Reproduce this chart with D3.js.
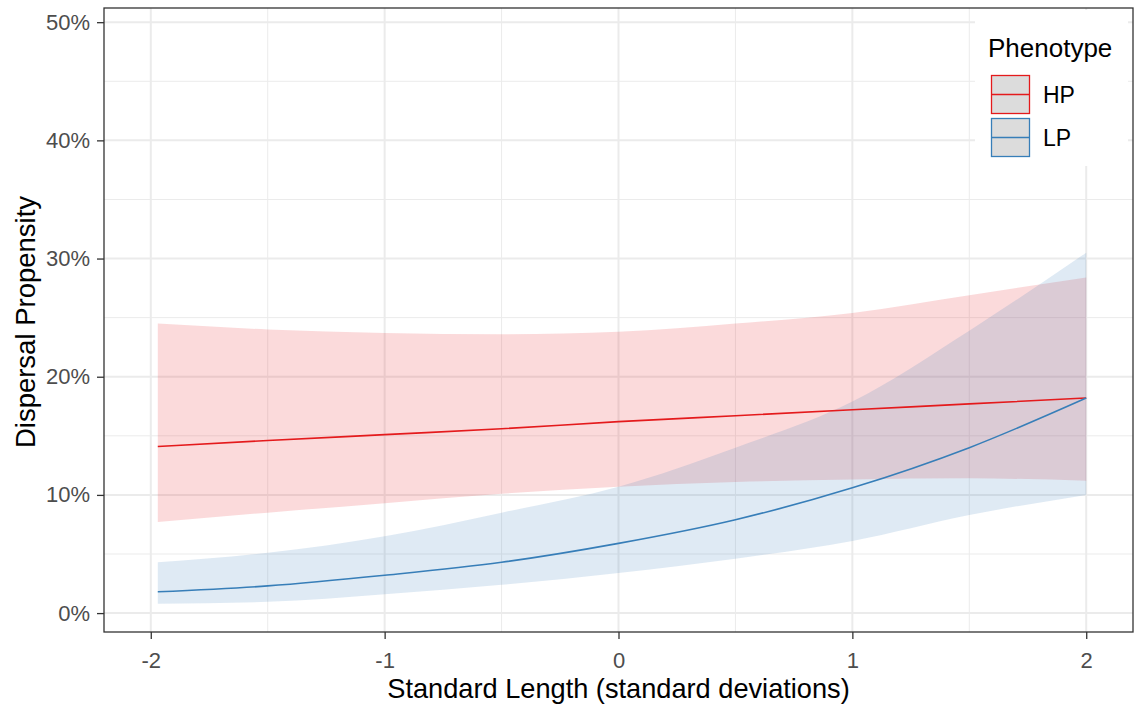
<!DOCTYPE html>
<html>
<head>
<meta charset="utf-8">
<script src="https://cdn.jsdelivr.net/npm/d3@7"></script>
<style>
  body { margin: 0; background: #fff; }
  text { font-family: "Liberation Sans", Arial, sans-serif; }
</style>
</head>
<body>
<svg></svg>
<script>
const width = 1138;
const height = 708;

// standard length (sd) at which the fitted values were read
const xs = [-1.97, -1.5, -1, -0.5, 0, 0.5, 1, 1.5, 2];

// HP phenotype: fit, lower, upper (proportion)
const hpFit = [0.141, 0.146, 0.151, 0.156, 0.162, 0.167, 0.172, 0.177, 0.182];
const hpLow = [0.077, 0.085, 0.093, 0.101, 0.107, 0.111, 0.113, 0.114, 0.112];
const hpUp = [0.245, 0.240, 0.237, 0.236, 0.238, 0.245, 0.254, 0.269, 0.284];

// LP phenotype
const lpFit = [0.018, 0.023, 0.032, 0.043, 0.059, 0.079, 0.106, 0.140, 0.182];
const lpLow = [0.008, 0.0095, 0.016, 0.024, 0.034, 0.046, 0.061, 0.083, 0.100];
const lpUp = [0.043, 0.051, 0.065, 0.085, 0.107, 0.140, 0.179, 0.239, 0.305];

const phenotypes = ["HP", "LP"];
const colors = ["#e41a1c", "#377eb8"];
const xTicks = [-2, -1, 0, 1, 2];
const xMinor = [-1.5, -0.5, 0.5, 1.5];
const yTicks = [0, 0.1, 0.2, 0.3, 0.4, 0.5];
const yMinor = [0.05, 0.15, 0.25, 0.35, 0.45];

const panel = { left: 104, right: 1133, top: 8, bottom: 632 };

const svg = d3.select("svg").attr("width", width).attr("height", height);

const x = d3.scaleLinear().domain([-2.2, 2.2]).range([panel.left, panel.right]);
const y = d3.scaleLinear().domain([-0.016, 0.512]).range([panel.bottom, panel.top]);

const grid = svg.append("g");
grid.selectAll(".minor-x").data(xMinor).join("line")
  .attr("x1", d => x(d)).attr("x2", d => x(d))
  .attr("y1", panel.top).attr("y2", panel.bottom)
  .attr("stroke", "#ebebeb").attr("stroke-width", 1);
grid.selectAll(".minor-y").data(yMinor).join("line")
  .attr("y1", d => y(d)).attr("y2", d => y(d))
  .attr("x1", panel.left).attr("x2", panel.right)
  .attr("stroke", "#ebebeb").attr("stroke-width", 1);
grid.selectAll(".major-x").data(xTicks).join("line")
  .attr("x1", d => x(d)).attr("x2", d => x(d))
  .attr("y1", panel.top).attr("y2", panel.bottom)
  .attr("stroke", "#ebebeb").attr("stroke-width", 2);
grid.selectAll(".major-y").data(yTicks).join("line")
  .attr("y1", d => y(d)).attr("y2", d => y(d))
  .attr("x1", panel.left).attr("x2", panel.right)
  .attr("stroke", "#ebebeb").attr("stroke-width", 2);

const series = [
  { fit: hpFit, low: hpLow, up: hpUp },
  { fit: lpFit, low: lpLow, up: lpUp },
];

const area = d3.area()
  .x((d, i) => x(xs[i]))
  .y0(d => y(d[0]))
  .y1(d => y(d[1]))
  .curve(d3.curveMonotoneX);

const line = d3.line()
  .x((d, i) => x(xs[i]))
  .y(d => y(d))
  .curve(d3.curveMonotoneX);

series.forEach((s, k) => {
  svg.append("path")
    .datum(s.low.map((v, i) => [v, s.up[i]]))
    .attr("d", area)
    .attr("fill", colors[k])
    .attr("fill-opacity", 0.16);
});
series.forEach((s, k) => {
  svg.append("path")
    .datum(s.fit)
    .attr("d", line)
    .attr("fill", "none")
    .attr("stroke", colors[k])
    .attr("stroke-width", 1.6);
});

// legend (white box over the panel)
const lg = svg.append("g");
lg.append("rect").attr("x", 975).attr("y", 10).attr("width", 153).attr("height", 156).attr("fill", "#fff");
lg.append("text").attr("x", 988).attr("y", 56.5).attr("font-size", 26).attr("fill", "#000").text("Phenotype");
phenotypes.forEach((p, k) => {
  const ky = 75 + k * 43;
  lg.append("rect").attr("x", 991.5).attr("y", ky + 0.5).attr("width", 38).attr("height", 38)
    .attr("fill", "#dcdcdc").attr("stroke", colors[k]).attr("stroke-width", 1.3);
  lg.append("line").attr("x1", 992).attr("x2", 1029).attr("y1", ky + 19.5).attr("y2", ky + 19.5)
    .attr("stroke", colors[k]).attr("stroke-width", 1.4);
  lg.append("text").attr("x", 1043).attr("y", ky + 20).attr("dy", "0.35em")
    .attr("font-size", 23).attr("fill", "#000").text(p);
});

// panel border
svg.append("rect")
  .attr("x", panel.left).attr("y", panel.top)
  .attr("width", panel.right - panel.left).attr("height", panel.bottom - panel.top)
  .attr("fill", "none").attr("stroke", "#333").attr("stroke-width", 1.3);

// axes
const xAxis = svg.append("g").attr("transform", `translate(0,${panel.bottom})`)
  .call(d3.axisBottom(x).tickValues(xTicks).tickSize(7).tickPadding(13).tickFormat(d3.format("d")));
const yAxis = svg.append("g").attr("transform", `translate(${panel.left},0)`)
  .call(d3.axisLeft(y).tickValues(yTicks).tickSize(7).tickPadding(7).tickFormat(d3.format(".0%")));
[xAxis, yAxis].forEach(a => {
  a.select(".domain").remove();
  a.selectAll(".tick line").attr("stroke", "#333").attr("stroke-width", 1.3);
  a.selectAll(".tick text").attr("fill", "#4d4d4d").attr("font-size", 22)
    .attr("font-family", "Liberation Sans, Arial, sans-serif");
});
xAxis.selectAll(".tick text").text(d => d < 0 ? "-" + Math.abs(d) : d);

svg.append("text").attr("x", (panel.left + panel.right) / 2).attr("y", 698)
  .attr("text-anchor", "middle").attr("font-size", 27.2).attr("fill", "#000")
  .text("Standard Length (standard deviations)");
svg.append("text")
  .attr("transform", `translate(35,${(panel.top + panel.bottom) / 2 + 2}) rotate(-90)`)
  .attr("text-anchor", "middle").attr("font-size", 27.5).attr("fill", "#000")
  .text("Dispersal Propensity");
</script>
</body>
</html>
